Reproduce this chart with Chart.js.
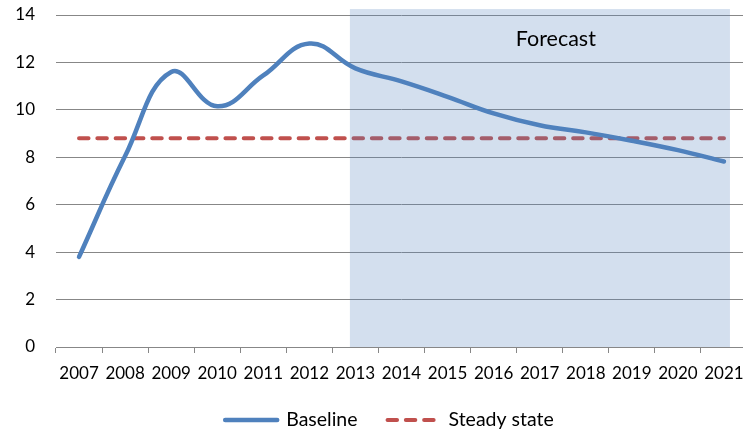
<!DOCTYPE html>
<html>
<head>
<meta charset="utf-8">
<script src="https://cdn.jsdelivr.net/npm/chart.js@4/dist/chart.umd.min.js"></script>
<style>
  html, body { margin: 0; padding: 0; background: #fff; overflow: hidden; }
  #wrap { width: 777px; height: 431px; position: relative; }
</style>
</head>
<body>
<div id="wrap"><canvas id="chart"></canvas></div>
<script>
// Years on the horizontal axis
const years = ['2007', '2008', '2009', '2010', '2011', '2012', '2013', '2014',
               '2015', '2016', '2017', '2018', '2019', '2020', '2021'];
// Baseline path
const baseline = [3.8, 8.05, 11.6, 10.15, 11.45, 12.8, 11.75, 11.2,
                  10.55, 9.85, 9.35, 9.05, 8.7, 8.3, 7.82];
// Steady-state level
const steadyState = [8.8, 8.8, 8.8, 8.8, 8.8, 8.8, 8.8, 8.8,
                     8.8, 8.8, 8.8, 8.8, 8.8, 8.8, 8.8];
// Value-axis ticks
const yTicks = [0, 2, 4, 6, 8, 10, 12, 14];
// First and last year of the forecast period
const forecastYears = ['2013', '2021'];
const forecastLabel = 'Forecast';

const BLUE = '#4F81BD';
const RED = '#C0504D';
const GRID = '#878787';
const FONT = 'Lato, "Open Sans", sans-serif';

Chart.defaults.color = '#000';
Chart.defaults.font.family = FONT;

// Shaded forecast band, drawn above the steady-state line but below the baseline
const forecastBand = {
  id: 'forecastBand',
  beforeDatasetDraw(chart, args) {
    if (args.index !== 0) return;
    const { ctx, scales: { x, y } } = chart;
    const left = x.getPixelForValue(years.indexOf(forecastYears[0]) - 0.12);
    const right = x.getPixelForValue(years.indexOf(forecastYears[1]) + 0.13);
    const top = y.getPixelForValue(14.25);
    const bottom = y.getPixelForValue(0);
    ctx.save();
    ctx.fillStyle = 'rgba(84, 132, 190, 0.26)';
    ctx.fillRect(left, top, right - left, bottom - top);
    ctx.restore();
  },
  afterDatasetsDraw(chart) {
    const { ctx, scales: { x, y } } = chart;
    ctx.save();
    ctx.font = '21.5px ' + FONT;
    ctx.fillStyle = '#000';
    ctx.textAlign = 'center';
    ctx.textBaseline = 'alphabetic';
    ctx.fillText(forecastLabel, x.getPixelForValue(10.35), y.getPixelForValue(12.7));
    ctx.restore();
  }
};

// Legend row under the axis: a line sample per series followed by its name
const lineLegend = {
  id: 'lineLegend',
  afterDraw(chart) {
    const { ctx } = chart;
    const sample = 56, textGap = 7, itemGap = 28, cy = 420;
    ctx.save();
    ctx.font = '19.5px ' + FONT;
    const items = chart.data.datasets.map(ds => ({ ds, w: ctx.measureText(ds.label).width }));
    const total = items.reduce((s, it) => s + sample + textGap + it.w, 0) + itemGap * (items.length - 1);
    let x = chart.width / 2 - total / 2;
    items.forEach(({ ds, w }) => {
      ctx.beginPath();
      ctx.strokeStyle = ds.borderColor;
      ctx.lineWidth = ds.borderWidth;
      ctx.lineCap = ds.borderCapStyle || 'butt';
      ctx.setLineDash(ds.borderDash || []);
      ctx.moveTo(x + 2, cy);
      ctx.lineTo(x + sample - 2, cy);
      ctx.stroke();
      ctx.setLineDash([]);
      ctx.fillStyle = '#000';
      ctx.textAlign = 'left';
      ctx.textBaseline = 'middle';
      ctx.fillText(ds.label, x + sample + textGap, cy);
      x += sample + textGap + w + itemGap;
    });
    ctx.restore();
  }
};

new Chart(document.getElementById('chart'), {
  type: 'line',
  data: {
    labels: years,
    datasets: [
      {
        label: 'Baseline',
        data: baseline,
        borderColor: BLUE,
        backgroundColor: BLUE,
        borderWidth: 4.5,
        borderCapStyle: 'round',
        tension: 0.42,
        pointRadius: 0,
        fill: false
      },
      {
        label: 'Steady state',
        data: steadyState,
        borderColor: RED,
        backgroundColor: RED,
        borderWidth: 4,
        borderDash: [9.5, 8.8],
        borderCapStyle: 'round',
        tension: 0,
        pointRadius: 0,
        fill: false
      }
    ]
  },
  options: {
    responsive: true,
    maintainAspectRatio: false,
    animation: false,
    events: [],
    layout: { padding: { left: 0, right: 30, top: 15, bottom: 49 } },
    scales: {
      x: {
        type: 'category',
        offset: true,
        afterFit(scale) { scale.height = 35; },
        grid: { offset: true, drawOnChartArea: false, drawTicks: true, tickLength: 6, color: GRID },
        border: { display: true, color: GRID, width: 1 },
        ticks: { font: { size: 17 }, color: '#000', padding: 10, maxRotation: 0, autoSkip: false }
      },
      y: {
        min: 0,
        max: 14,
        afterBuildTicks(scale) { scale.ticks = yTicks.map(v => ({ value: v })); },
        afterFit(scale) { scale.width = 56; },
        grid: { color: GRID, drawTicks: true, tickLength: 21, tickColor: 'rgba(0,0,0,0)' },
        border: { display: false },
        ticks: { font: { size: 17 }, color: '#000', padding: 0 }
      }
    },
    plugins: {
      legend: { display: false },
      tooltip: { enabled: false }
    }
  },
  plugins: [forecastBand, lineLegend]
});
</script>
</body>
</html>
